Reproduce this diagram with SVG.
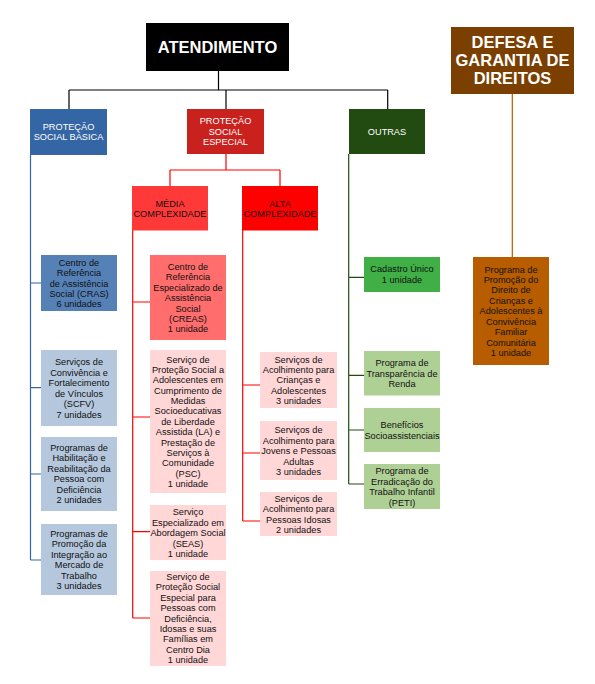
<svg xmlns="http://www.w3.org/2000/svg" width="595" height="684" viewBox="0 0 595 684">
<style>
text{font-family:"Liberation Sans",Arial,sans-serif;text-anchor:middle}
.t{font-size:9.2px;fill:#111}
.w{font-size:9.2px;fill:#fff}
.b{font-size:16.5px;font-weight:bold;fill:#fff}
.c{fill:none;stroke-width:1.2}
</style>
<rect width="595" height="684" fill="#fff"/>
<g id="connectors">
<path class="c" stroke="#000" d="M218.5 71V90M69 90H387.7M69 90V109M226 90V109M387.7 90V109"/>
<path class="c" stroke="#3465a4" d="M30.5 155V560M30.5 283H41M30.5 387.7H41M30.5 474H41M30.5 560H41"/>
<path class="c" stroke="#ff0000" d="M226 154V170M170 170H280M170 170V186M280 170V186"/>
<path class="c" stroke="#ff0000" d="M132.7 230V618M132.7 302H150M132.7 417H150M132.7 531.7H150M132.7 618H150"/>
<path class="c" stroke="#ff0000" d="M242.7 230V521M242.7 385H260M242.7 453H260M242.7 521H260"/>
<path class="c" stroke="#224b12" d="M348.7 154V484M348.7 277.3H364M348.7 375.3H364M348.7 430H364M348.7 484H364"/>
<path class="c" stroke="#b85c00" d="M512.3 94V257"/>
</g>
<g id="atendimento"><rect x="146" y="23" width="143" height="48" fill="#000"/><text class="b" x="217.5" y="53">ATENDIMENTO</text></g>
<g id="defesa"><rect x="451" y="27" width="123" height="67" fill="#7b3f00"/><text class="b" x="512.5" y="48.3">DEFESA E</text><text class="b" x="512.5" y="66.3">GARANTIA DE</text><text class="b" x="512.5" y="84.3">DIREITOS</text></g>
<g id="psb"><rect x="30" y="109" width="77" height="46" fill="#3465a4"/><text class="w" x="68.5" y="130">PROTEÇÃO</text><text class="w" x="68.5" y="139.8">SOCIAL BÁSICA</text></g>
<g id="pse"><rect x="187" y="109" width="77" height="45" fill="#c9211e"/><text class="w" x="225.5" y="124">PROTEÇÃO</text><text class="w" x="225.5" y="134.5">SOCIAL</text><text class="w" x="225.5" y="144.7">ESPECIAL</text></g>
<g id="outras"><rect x="349" y="109" width="76" height="45" fill="#224b12"/><text class="w" x="387" y="135">OUTRAS</text></g>
<g id="media"><rect x="132" y="186" width="76" height="44.5" fill="#ff3838"/><text class="t" x="170" y="206.5">MÉDIA</text><text class="t" x="170" y="216.6">COMPLEXIDADE</text></g>
<g id="alta"><rect x="242" y="186" width="76" height="44.5" fill="#ff0000"/><text class="t" x="280" y="206.5">ALTA</text><text class="t" x="280" y="216.6">COMPLEXIDADE</text></g>
<g id="cras"><rect x="41" y="255" width="76" height="56" fill="#5581b6"/><text class="t" x="79" y="266"><tspan x="79">Centro de</tspan><tspan x="79" dy="10.3">Referência</tspan><tspan x="79" dy="10.3">de Assistência</tspan><tspan x="79" dy="10.3">Social (CRAS)</tspan><tspan x="79" dy="10.3">6 unidades</tspan></text></g>
<g id="scfv"><rect x="41" y="350" width="76" height="76" fill="#b4c7dc"/><text class="t" x="79" y="365"><tspan x="79">Serviços de</tspan><tspan x="79" dy="10.6">Convivência e</tspan><tspan x="79" dy="10.6">Fortalecimento</tspan><tspan x="79" dy="10.6">de Vínculos</tspan><tspan x="79" dy="10.6">(SCFV)</tspan><tspan x="79" dy="10.6">7 unidades</tspan></text></g>
<g id="habilitacao"><rect x="41" y="437" width="76" height="74" fill="#b4c7dc"/><text class="t" x="79" y="450.6"><tspan x="79">Programas de</tspan><tspan x="79" dy="10.5">Habilitação e</tspan><tspan x="79" dy="10.5">Reabilitação da</tspan><tspan x="79" dy="10.5">Pessoa com</tspan><tspan x="79" dy="10.5">Deficiência</tspan><tspan x="79" dy="10.5">2 unidades</tspan></text></g>
<g id="integracao"><rect x="41" y="524" width="76" height="71" fill="#b4c7dc"/><text class="t" x="79" y="536.6"><tspan x="79">Programas de</tspan><tspan x="79" dy="10.5">Promoção da</tspan><tspan x="79" dy="10.5">Integração ao</tspan><tspan x="79" dy="10.5">Mercado de</tspan><tspan x="79" dy="10.5">Trabalho</tspan><tspan x="79" dy="10.5">3 unidades</tspan></text></g>
<g id="creas"><rect x="150" y="255" width="76" height="85" fill="#ff6d6d"/><text class="t" x="188" y="270"><tspan x="188">Centro de</tspan><tspan x="188" dy="10.4">Referência</tspan><tspan x="188" dy="10.4">Especializado de</tspan><tspan x="188" dy="10.4">Assistência</tspan><tspan x="188" dy="10.4">Social</tspan><tspan x="188" dy="10.4">(CREAS)</tspan><tspan x="188" dy="10.4">1 unidade</tspan></text></g>
<g id="medidas"><rect x="150" y="350" width="76" height="143" fill="#ffd7d7"/><text class="t" x="188" y="362.6"><tspan x="188">Serviço de</tspan><tspan x="188" dy="10.37">Proteção Social a</tspan><tspan x="188" dy="10.37">Adolescentes em</tspan><tspan x="188" dy="10.37">Cumprimento de</tspan><tspan x="188" dy="10.37">Medidas</tspan><tspan x="188" dy="10.37">Socioeducativas</tspan><tspan x="188" dy="10.37">de Liberdade</tspan><tspan x="188" dy="10.37">Assistida (LA) e</tspan><tspan x="188" dy="10.37">Prestação de</tspan><tspan x="188" dy="10.37">Serviços à</tspan><tspan x="188" dy="10.37">Comunidade</tspan><tspan x="188" dy="10.37">(PSC)</tspan><tspan x="188" dy="10.37">1 unidade</tspan></text></g>
<g id="seas"><rect x="150" y="505" width="76" height="55" fill="#ffd7d7"/><text class="t" x="188" y="515"><tspan x="188">Serviço</tspan><tspan x="188" dy="10.5">Especializado em</tspan><tspan x="188" dy="10.5">Abordagem Social</tspan><tspan x="188" dy="10.5">(SEAS)</tspan><tspan x="188" dy="10.5">1 unidade</tspan></text></g>
<g id="centrodia"><rect x="150" y="571" width="76" height="95" fill="#ffd7d7"/><text class="t" x="188" y="580"><tspan x="188">Serviço de</tspan><tspan x="188" dy="10.4">Proteção Social</tspan><tspan x="188" dy="10.4">Especial para</tspan><tspan x="188" dy="10.4">Pessoas com</tspan><tspan x="188" dy="10.4">Deficiência,</tspan><tspan x="188" dy="10.4">Idosas e suas</tspan><tspan x="188" dy="10.4">Famílias em</tspan><tspan x="188" dy="10.4">Centro Dia</tspan><tspan x="188" dy="10.4">1 unidade</tspan></text></g>
<g id="criancas"><rect x="260" y="352" width="77" height="56" fill="#ffd7d7"/><text class="t" x="298.5" y="362.6"><tspan x="298.5">Serviços de</tspan><tspan x="298.5" dy="10.35">Acolhimento para</tspan><tspan x="298.5" dy="10.35">Crianças e</tspan><tspan x="298.5" dy="10.35">Adolescentes</tspan><tspan x="298.5" dy="10.35">3 unidades</tspan></text></g>
<g id="jovens"><rect x="260" y="421" width="77" height="59" fill="#ffd7d7"/><text class="t" x="298.5" y="433"><tspan x="298.5">Serviços de</tspan><tspan x="298.5" dy="10.5">Acolhimento para</tspan><tspan x="298.5" dy="10.5">Jovens e Pessoas</tspan><tspan x="298.5" dy="10.5">Adultas</tspan><tspan x="298.5" dy="10.5">3 unidades</tspan></text></g>
<g id="idosas"><rect x="260" y="492" width="77" height="44" fill="#ffd7d7"/><text class="t" x="298.5" y="502"><tspan x="298.5">Serviços de</tspan><tspan x="298.5" dy="10.3">Acolhimento para</tspan><tspan x="298.5" dy="10.3">Pessoas Idosas</tspan><tspan x="298.5" dy="10.3">2 unidades</tspan></text></g>
<g id="cadastro"><rect x="364" y="257" width="76" height="35" fill="#3faf46"/><text class="t" x="402" y="271.6"><tspan x="402">Cadastro Único</tspan><tspan x="402" dy="11">1 unidade</tspan></text></g>
<g id="transparencia"><rect x="364" y="351" width="76" height="44.5" fill="#afd095"/><text class="t" x="402" y="366"><tspan x="402">Programa de</tspan><tspan x="402" dy="10.7">Transparência de</tspan><tspan x="402" dy="10.7">Renda</tspan></text></g>
<g id="beneficios"><rect x="364" y="408" width="76" height="44" fill="#afd095"/><text class="t" x="402" y="427.6"><tspan x="402">Benefícios</tspan><tspan x="402" dy="11">Socioassistenciais</tspan></text></g>
<g id="peti"><rect x="364" y="464" width="76" height="45" fill="#afd095"/><text class="t" x="402" y="474.3"><tspan x="402">Programa de</tspan><tspan x="402" dy="10.55">Erradicação do</tspan><tspan x="402" dy="10.55">Trabalho Infantil</tspan><tspan x="402" dy="10.55">(PETI)</tspan></text></g>
<g id="convivencia"><rect x="473" y="257" width="76" height="108" fill="#b85c00"/><text class="t" x="511" y="272.6"><tspan x="511">Programa de</tspan><tspan x="511" dy="10.42">Promoção do</tspan><tspan x="511" dy="10.42">Direito de</tspan><tspan x="511" dy="10.42">Crianças e</tspan><tspan x="511" dy="10.42">Adolescentes à</tspan><tspan x="511" dy="10.42">Convivência</tspan><tspan x="511" dy="10.42">Familiar</tspan><tspan x="511" dy="10.42">Comunitária</tspan><tspan x="511" dy="10.42">1 unidade</tspan></text></g>
</svg>
